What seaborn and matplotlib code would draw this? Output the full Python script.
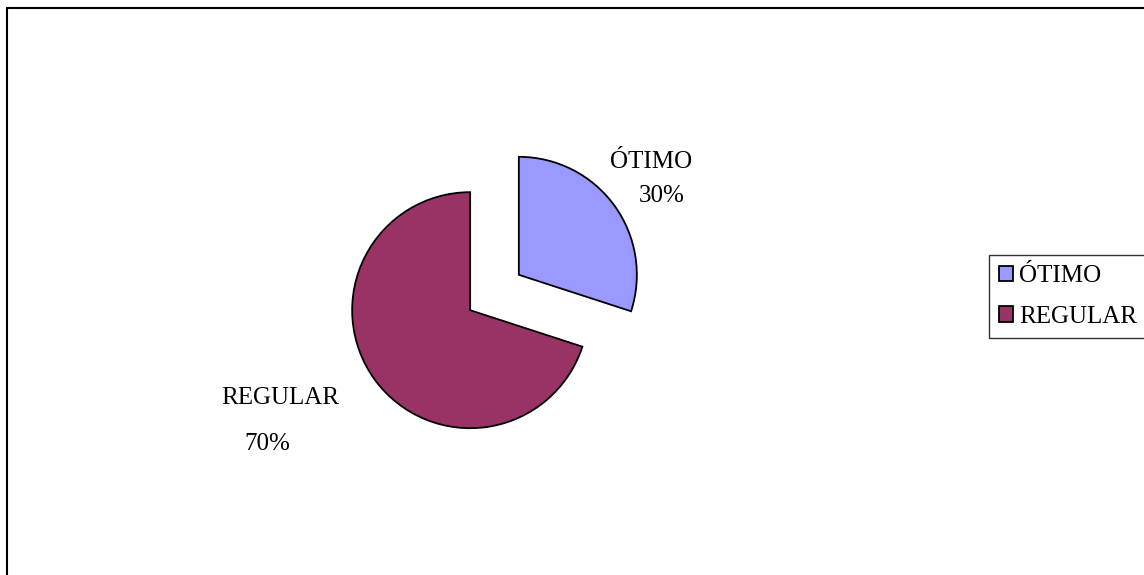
import matplotlib
matplotlib.use("Agg")
import matplotlib.pyplot as plt
import seaborn as sns
from matplotlib.lines import Line2D

# dados
categorias = ["ÓTIMO", "REGULAR"]
valores = [30, 70]
cores = ["#9999FF", "#993366"]

sns.set_style("white")
plt.rcParams['font.family'] = ['Liberation Serif', 'DejaVu Serif']
plt.rcParams['text.color'] = 'black'

W, H = 1144, 575
fig = plt.figure(figsize=(W / 100, H / 100), dpi=100)
ax = fig.add_axes([0, 0, 1, 1])

# pizza (coordenadas em pixels, y para cima)
cx, cy, r = 494.5, H - 292.5, 118
wedges, _ = ax.pie(valores, colors=cores, startangle=90, counterclock=False,
                   explode=[0.255 * r, 0.255 * r], center=(cx, cy), radius=r, frame=True,
                   wedgeprops=dict(edgecolor='black', linewidth=1.3))
ax.set_xlim(0, W)
ax.set_ylim(0, H)
ax.set_aspect('equal')
ax.axis('off')

# rótulos
tot = sum(valores)
ax.text(cx + 157, cy + 130, categorias[0], ha='center', va='center', fontsize=18)
ax.text(cx + 167, cy + 97, f"{valores[0] * 100 // tot}%", ha='center', va='center', fontsize=18)
ax.text(cx - 214, cy - 105, categorias[1], ha='center', va='center', fontsize=18)
ax.text(cx - 227, cy - 151, f"{valores[1] * 100 // tot}%", ha='center', va='center', fontsize=18)

# legenda
leg = ax.legend(wedges, categorias, loc='upper left',
                bbox_to_anchor=(989 / W, 1 - 255 / H), bbox_transform=fig.transFigure,
                fontsize=18, frameon=True, fancybox=False, borderpad=0.4,
                handlelength=0.56, handleheight=0.56, handletextpad=0.24,
                labelspacing=0.75, borderaxespad=0)
leg.get_frame().set_edgecolor('black')
leg.get_frame().set_linewidth(1.0)

# moldura (só topo e esquerda visíveis)
fig.add_artist(Line2D([7 / W, 7 / W], [0, 1 - 8 / H], color='black', lw=1.5, transform=fig.transFigure))
fig.add_artist(Line2D([7 / W, 1], [1 - 8 / H, 1 - 8 / H], color='black', lw=1.5, transform=fig.transFigure))

fig.savefig("out.png", dpi=100, facecolor='white')
